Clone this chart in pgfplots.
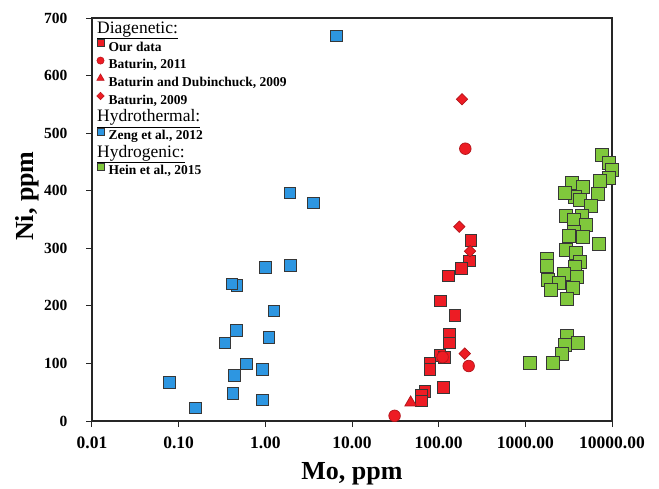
\documentclass[border=0pt]{standalone}
\usepackage{fontspec}
\setmainfont{Liberation Serif}
\usepackage{pgfplots}
\pgfplotsset{compat=1.18}

\definecolor{redpt}{RGB}{237,28,36}
\definecolor{bluept}{RGB}{45,150,225}
\definecolor{greenpt}{RGB}{128,200,60}
\definecolor{edge}{RGB}{55,55,55}

\begin{document}
\begin{tikzpicture}
\begin{axis}[
  name=ax,
  scale only axis,
  width=520bp, height=403bp,
  xmode=log, xmin=0.01, xmax=10000,
  ymin=0, ymax=700,
  xtick={0.01,0.1,1,10,100,1000,10000},
  xticklabels={0.01,0.10,1.00,10.00,100.00,1000.00,10000.00},
  ytick={0,100,200,300,400,500,600,700},
  yticklabels={0,100,200,300,400,500,600,700},
  xminorticks=false,
  tick align=outside, xtick pos=bottom, ytick pos=left,
  major tick length=6bp,
  axis line style={line width=1.2bp, black!85},
  tick style={line width=1bp, black!85},
  xticklabel style={font=\fontsize{17.5bp}{20bp}\selectfont\bfseries, yshift=-6bp},
  yticklabel style={font=\fontsize{15.5bp}{18bp}\selectfont\bfseries, xshift=-15bp},
  xlabel={Mo, ppm},
  ylabel={Ni, ppm},
  xlabel style={font=\fontsize{26bp}{30bp}\selectfont\bfseries, at={(axis description cs:0.5,-0.1464)}, anchor=base},
  ylabel style={font=\fontsize{26bp}{30bp}\selectfont\bfseries, at={(axis description cs:-0.113,0.558)}, anchor=base},
  clip=false,
  legend image code/.code={\draw[#1] plot coordinates {(0bp,4.5bp)};},
  legend cell align=left,
  legend style={draw=none, fill=none, inner sep=0pt, outer sep=0pt,
    at={(axis description cs:0.0092,0.993)}, anchor=north west,
    column sep=4.5bp, row sep=0pt,
    nodes={inner sep=0pt, text height=12.5bp, text depth=5.2bp}},
]
% legend
\addlegendimage{empty legend}
\addlegendentry{\hspace*{-11.5bp}\fontsize{17.5bp}{20bp}\selectfont\underline{Diagenetic:}}
\addlegendimage{only marks, mark=square*, mark size=3.5bp, draw=edge, fill=redpt, line width=0.6bp}
\addlegendentry{\fontsize{13.5bp}{16bp}\selectfont\bfseries Our data}
\addlegendimage{only marks, mark=*, mark size=3.6bp, draw=redpt!80!black, fill=redpt, line width=0.6bp}
\addlegendentry{\fontsize{13.5bp}{16bp}\selectfont\bfseries Baturin, 2011}
\addlegendimage{only marks, mark=triangle*, mark size=4.3bp, draw=redpt!80!black, fill=redpt, line width=0.6bp}
\addlegendentry{\fontsize{13.5bp}{16bp}\selectfont\bfseries Baturin and Dubinchuck, 2009}
\addlegendimage{only marks, mark=square*, mark size=2.6bp, mark options={rotate=45}, draw=redpt!80!black, fill=redpt, line width=0.6bp}
\addlegendentry{\fontsize{13.5bp}{16bp}\selectfont\bfseries Baturin, 2009}
\addlegendimage{empty legend}
\addlegendentry{\hspace*{-11.5bp}\fontsize{17.5bp}{20bp}\selectfont\underline{Hydrothermal:}}
\addlegendimage{only marks, mark=square*, mark size=3.5bp, draw=edge, fill=bluept, line width=0.6bp}
\addlegendentry{\fontsize{13.5bp}{16bp}\selectfont\bfseries Zeng et al., 2012}
\addlegendimage{empty legend}
\addlegendentry{\hspace*{-11.5bp}\fontsize{17.5bp}{20bp}\selectfont\underline{Hydrogenic:}}
\addlegendimage{only marks, mark=square*, mark size=3.5bp, draw=edge, fill=greenpt, line width=0.6bp}
\addlegendentry{\fontsize{13.5bp}{16bp}\selectfont\bfseries Hein et al., 2015}

% Our data
\addplot[forget plot, only marks, mark=square*, mark size=5.8bp, mark options={draw=edge, fill=redpt, line width=0.7bp}] coordinates {
(234,314) (226,278) (183,265) (130,252) (105,209) (153,184) (133,151) (133,136)
(103.5,114) (117,111) (79,101) (79,90) (113,58) (69.5,51) (63,45) (63,35)
};
% Baturin, 2011
\addplot[forget plot, only marks, mark=*, mark size=5.8bp, mark options={draw=redpt!75!black, fill=redpt, line width=0.7bp}] coordinates {
(203,473) (111,111) (222,95.5) (31,9)
};
% Baturin and Dubinchuck, 2009
\addplot[forget plot, only marks, mark=triangle*, mark size=6.7bp, mark options={draw=redpt!75!black, fill=redpt, line width=0.7bp}] coordinates {
(47.5,32)
};
% Baturin, 2009
\addplot[forget plot, only marks, mark=square*, mark size=4bp, mark options={rotate=45, draw=redpt!75!black, fill=redpt, line width=0.7bp}] coordinates {
(186,559) (173,337.5) (230,295) (200,117)
};
% Zeng et al., 2012
\addplot[forget plot, only marks, mark=square*, mark size=5.8bp, mark options={draw=edge, fill=bluept, line width=0.7bp}] coordinates {
(6.6,669) (1.91,396) (3.6,379) (1.0,267) (1.95,270) (0.47,236) (0.41,238)
(1.25,191) (0.465,157) (0.34,136) (1.1,145) (0.60,99.5) (0.92,90) (0.44,79)
(0.078,67) (0.42,48) (0.92,37) (0.156,23)
};
% Hein et al., 2015
\addplot[forget plot, only marks, mark=square*, mark size=6.5bp, mark options={draw=edge, fill=greenpt, line width=0.7bp}] coordinates {
(7660,463) (9160,449) (9910,436) (9160,422) (7330,417) (3420,414) (4620,407)
(3750,390) (2840,397) (6890,395) (4230,384) (5720,373) (4540,356) (2920,356)
(3590,350) (4950,340) (3590,329) (3210,321) (4620,320) (7130,307) (2940,298)
(3860,292) (4230,277) (1770,281) (1770,269) (3750,268) (2810,255) (3900,251)
(1800,245) (2460,240) (3550,231) (1970,228) (2990,212)
(3050,148) (4010,136) (2870,132) (2620,116) (2080,101) (1120,101)
};
\end{axis}
\path (ax.south west) ++(-92bp,-65bp) rectangle ++(659bp,486bp);
\end{tikzpicture}
\end{document}
